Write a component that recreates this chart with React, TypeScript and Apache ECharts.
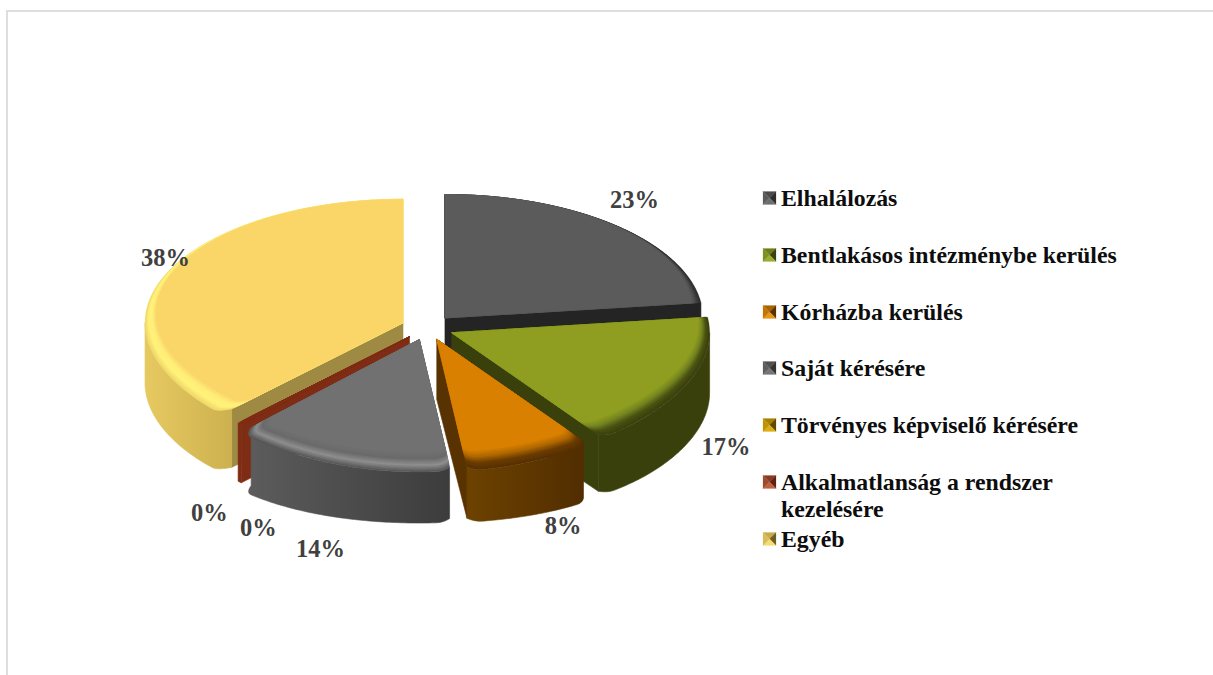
import React, { useEffect, useRef } from "react";
import * as echarts from "echarts";

const categories = [
  "Elhalálozás",
  "Bentlakásos intézménybe kerülés",
  "Kórházba kerülés",
  "Saját kérésére",
  "Törvényes képviselő kérésére",
  "Alkalmatlanság a rendszer\nkezelésére",
  "Egyéb",
];
const values = [23, 17.4, 7.8, 13.6, 0, 0.3, 37.9];

// style tables (index = category)
const paintOrder = [6, 0, 1, 2, 5, 4, 3];
const bevelStops = [
  ["#2c2c2c", "#3a3a3a", "#4f4f4f", "#5b5b5b"],
  ["#3a400c", "#4a5212", "#748420", "#8f9e20"],
  ["#573000", "#6b3c00", "#b06800", "#d98000"],
  ["#595959", "#8e8e8e", "#6a6a6a", "#717171"],
  ["#a88000", "#a88000", "#a88000", "#a88000"],
  ["#7f2c14", "#7f2c14", "#7f2c14", "#7f2c14"],
  ["#f0d868", "#fff27a", "#ffee78", "#fad568"],
];
const outerWall = [
  ["#242424", "#242424"],
  ["#3a400c", "#3a400c"],
  ["#6d4200", "#512d00"],
  ["#5c5c5c", "#3c3c3c"],
  ["#6e5400", "#6e5400"],
  ["#7f2c14", "#7f2c14"],
  ["#e6c960", "#cdb14f"],
];
const cutWall = ["#242424", "#3a400c", "#583200", "#3c3c3c", "#6e5400", "#7f2c14", "#9f8a43"];
const iconFaces = [
  ["#4a4a4a", "#2e2e2e", "#6e6e6e", "#5a5a5a"],
  ["#6f7d18", "#3a420c", "#9bad2e", "#808f1e"],
  ["#a86400", "#5a3300", "#e8951c", "#c47600"],
  ["#505050", "#333333", "#757575", "#5e5e5e"],
  ["#a88000", "#5f4800", "#dcae10", "#c09400"],
  ["#8a3a20", "#5f2410", "#c0603c", "#a04a2c"],
  ["#c9a94a", "#6e5e26", "#f8dc6e", "#d8bc58"],
];
const labelShift = [
  [19, -25],
  [39, 63],
  [36, 69],
  [-19, 90],
  [23, 98],
  [-24, 84],
  [2, -19],
];
const legendRowY = [198, 255, 312, 368, 425, 482, 539];

const CX = 427.5;
const CY = 327.5;
const RX = 258;
const RY = 123.5;
const FRONT = 9;
const DEPTH = 60;
const EXPLODE = 26.4;
const BEVEL_X = 11;
const BEVEL_Y = 9;
const BANDS = 12;
const DEG = Math.PI / 180;

const total = values.reduce((a, b) => a + b, 0);
const cumulative = values.map((_, i) => values.slice(0, i).reduce((a, b) => a + b, 0));
const startAngle = (i: number) => (cumulative[i] / total) * 360;
const endAngle = (i: number) => ((cumulative[i] + values[i]) / total) * 360;

function apexOf(i: number) {
  const mid = ((startAngle(i) + endAngle(i)) / 2) * DEG;
  return {
    x: CX + EXPLODE * Math.sin(mid),
    y: CY - (EXPLODE * Math.cos(mid) * RY) / RX,
  };
}

function cornerFactor(th: number, a0: number, a1: number) {
  const span = Math.min(3, (a1 - a0) / 2);
  if (span <= 0) return 1;
  const isFront = (a: number) => a > 100 && a < 260;
  const cut = (a: number) => (a > 180 ? 0.055 : 0.03);
  if (a1 - a0 < 2) return 1 - cut(a0);
  let f = 1;
  if (isFront(a0) && th - a0 < span) {
    const u = 1 - (th - a0) / span;
    f = Math.min(f, 1 - cut(a0) * u * u);
  }
  if (isFront(a1) && a1 - th < span) {
    const u = 1 - (a1 - th) / span;
    f = Math.min(f, 1 - cut(a1) * u * u);
  }
  return f;
}

// point on rim ellipse (t = 0 outer edge, t = 1 inner edge of the bevel), seen from the apex.
// The front of the bevel rolls a little over the outer wall, unless `plain` is asked for.
function rim(
  apex: { x: number; y: number },
  thDeg: number,
  a0: number,
  a1: number,
  t: number,
  plain = false,
) {
  const th = thDeg * DEG;
  const a = RX * Math.sin(th);
  const b = -RY * Math.cos(th);
  const rx = RX - t * BEVEL_X;
  const ry = RY - t * BEVEL_Y;
  const c = t * BEVEL_Y;
  const A = (a * a) / (rx * rx) + (b * b) / (ry * ry);
  const B = (b * c) / (ry * ry);
  const C = (c * c) / (ry * ry) - 1;
  const s = (-B + Math.sqrt(B * B - A * C)) / A;
  const cs = Math.cos(th);
  const roll = !plain && cs < 0 ? 1 + (FRONT / RY) * Math.pow(cs, 4) : 1;
  const f = s * roll * cornerFactor(thDeg, a0, a1);
  return [apex.x + a * f, apex.y + b * f];
}

function arcAngles(a0: number, a1: number) {
  const list: number[] = [];
  const n = Math.max(2, Math.ceil((a1 - a0) / 0.75));
  for (let k = 0; k <= n; k++) list.push(a0 + ((a1 - a0) * k) / n);
  return list;
}

function mix(c1: string, c2: string, u: number) {
  const p = (c: string, o: number) => parseInt(c.slice(o, o + 2), 16);
  const ch = (o: number) => Math.round(p(c1, o) + (p(c2, o) - p(c1, o)) * u);
  return `rgb(${ch(1)},${ch(3)},${ch(5)})`;
}

function bevelColour(i: number, t: number) {
  const st = bevelStops[i];
  const pos = t * (st.length - 1);
  const k = Math.min(st.length - 2, Math.floor(pos));
  return mix(st[k], st[k + 1], pos - k);
}

function renderSlice(i: number) {
  const children: any[] = [];
  const a0 = startAngle(i);
  const a1 = endAngle(i);
  const apex = apexOf(i);
  if (values[i] > 0) {
    const angles = arcAngles(a0, a1);
    const wall = (ang: number, fill: string) => {
      const p = rim(apex, ang, a0, a1, 0);
      const q = rim(apex, ang, a0, a1, 0, true);
      children.push({
        type: "polygon",
        shape: {
          points: [
            [apex.x, apex.y],
            p,
            [p[0], q[1] + DEPTH],
            [apex.x, apex.y + DEPTH],
          ],
        },
        style: { fill: fill, stroke: fill, lineWidth: 0.6 },
      });
    };
    if (a1 < 180) wall(a1, cutWall[i]);
    if (a0 >= 180) wall(a0, cutWall[i]);
    const w0 = Math.max(a0, 90);
    const w1 = Math.min(a1, 270);
    if (w1 > w0) {
      const arc = arcAngles(w0, w1);
      const top = arc.map((a) => rim(apex, a, a0, a1, 0));
      const bottom = arc
        .map((a, k) => [top[k][0], rim(apex, a, a0, a1, 0, true)[1] + DEPTH])
        .reverse();
      const wallFill = new echarts.graphic.LinearGradient(0, 0, 1, 0, [
        { offset: 0, color: outerWall[i][0] },
        { offset: 1, color: outerWall[i][1] },
      ]);
      children.push({
        type: "polygon",
        shape: { points: top.concat(bottom) },
        style: { fill: wallFill, stroke: wallFill, lineWidth: 0.6 },
      });
    }
    for (let b = 0; b <= BANDS; b++) {
      const t = b / BANDS;
      const pts = [[apex.x, apex.y]].concat(angles.map((a) => rim(apex, a, a0, a1, t)));
      const colour = bevelColour(i, t);
      children.push({
        type: "polygon",
        shape: { points: pts },
        style: { fill: colour, stroke: colour, lineWidth: 0.3 },
      });
    }
  }
  const midDeg = (a0 + a1) / 2;
  const mid = midDeg * DEG;
  const lx = apex.x + RX * Math.sin(mid) + labelShift[i][0];
  const ly = apex.y - 125 * Math.cos(mid) + labelShift[i][1];
  children.push({
    type: "text",
    z2: 100,
    style: {
      text: `${Math.round((values[i] / total) * 100)}%`,
      x: lx,
      y: ly,
      fill: "#404040",
      align: "center",
      verticalAlign: "middle",
      textAlign: "center",
      textVerticalAlign: "middle",
      font: 'bold 24.5px "Liberation Serif"',
    },
  });
  return { type: "group", children };
}

function legendItem(i: number) {
  const y = legendRowY[i];
  const x0 = 763;
  const s = 13;
  const y0 = y - s / 2;
  const cx = x0 + s / 2;
  const cy = y0 + s / 2;
  const [t, r, b, l] = iconFaces[i];
  const tri = (pts: number[][], fill: string) => ({
    type: "polygon",
    shape: { points: pts },
    style: { fill, stroke: fill, lineWidth: 0.2 },
  });
  return {
    type: "group",
    children: [
      tri([[x0, y0], [x0 + s, y0], [cx, cy]], t),
      tri([[x0 + s, y0], [x0 + s, y0 + s], [cx, cy]], r),
      tri([[x0, y0 + s], [x0 + s, y0 + s], [cx, cy]], b),
      tri([[x0, y0], [x0, y0 + s], [cx, cy]], l),
      {
        type: "text",
        style: {
          text: categories[i],
          x: 781,
          y: y - 13.5,
          fill: "#0d0d0d",
          font: 'bold 23.8px "Liberation Serif"',
          lineHeight: 27,
          textAlign: "left",
          textVerticalAlign: "top",
          align: "left",
          verticalAlign: "top",
        },
      },
    ],
  };
}

export default function App() {
  const ref = useRef<HTMLDivElement>(null);
  useEffect(() => {
    const chart = echarts.init(ref.current!, undefined, { renderer: "svg" });
    chart.setOption({
      animation: false,
      backgroundColor: "#ffffff",
      series: paintOrder.map((i) => ({
        type: "custom",
        name: categories[i],
        coordinateSystem: "none",
        silent: true,
        data: [[values[i]]],
        renderItem: () => renderSlice(i),
      })),
      graphic: [
        {
          type: "line",
          shape: { x1: 6, y1: 11, x2: 1213, y2: 11 },
          style: { stroke: "#dedede", lineWidth: 2 },
        },
        {
          type: "line",
          shape: { x1: 7, y1: 10, x2: 7, y2: 675 },
          style: { stroke: "#dedede", lineWidth: 2 },
        },
        ...categories.map((_, i) => legendItem(i)),
      ],
    });
    return () => chart.dispose();
  }, []);
  return (
    <div
      ref={ref}
      style={{ position: "absolute", left: 0, top: 0, width: 1213, height: 675 }}
    />
  );
}
